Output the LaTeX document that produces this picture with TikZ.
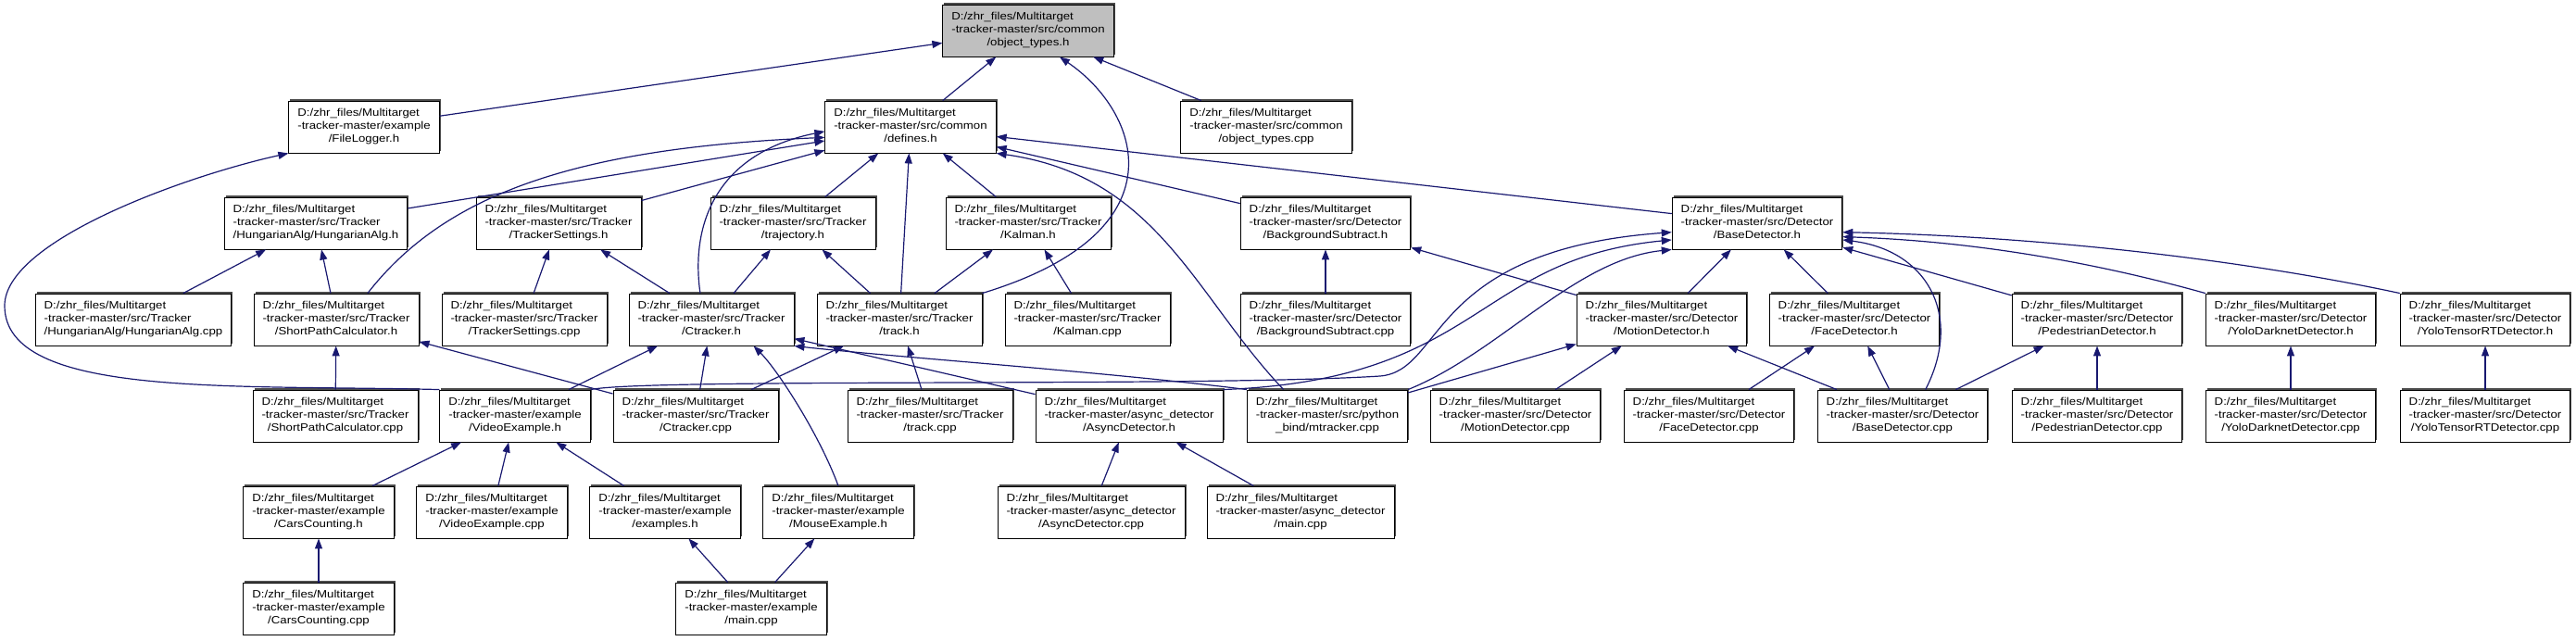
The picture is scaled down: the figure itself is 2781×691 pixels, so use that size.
\documentclass[tikz,border=0pt]{standalone}
\usepackage{fontspec}
\setmainfont[FakeStretch=1.15]{Liberation Sans}
\usepackage{tikz}
\usetikzlibrary{arrows.meta,shadows}
\definecolor{edgeblue}{HTML}{191970}
\definecolor{focusgray}{HTML}{BFBFBF}
\newcommand{\incfile}[2]{\begin{tabular}{@{}l@{}}D:/zhr\_files/Multitarget\\
  -tracker-master/#1\\\multicolumn{1}{@{}c@{}}{#2}\end{tabular}}

\begin{document}
\begin{tikzpicture}[x=1pt,y=-1pt,
    incbox/.style={draw=black,line width=0.9pt,fill=white,inner xsep=9.5pt,
      inner ysep=2pt,minimum height=56pt,font=\fontsize{11.5}{13.8}\selectfont,
      drop shadow={shadow xshift=1.6pt,shadow yshift=1.6pt,fill=black!70,opacity=1}},
    incl/.style={edgeblue,line width=1.2pt,-{Triangle[length=11pt,width=8pt]}}]
  \useasboundingbox (0,0) rectangle (2781,691);
  % rows of the include graph, top file first
  \node[incbox,fill=focusgray] (objtypes_h) at (1110,33) {\incfile{src/common}{/object\_types.h}};

  \node[incbox] (filelogger_h) at (393,137)  {\incfile{example}{/FileLogger.h}};
  \node[incbox] (defines_h)    at (983,137)  {\incfile{src/common}{/defines.h}};
  \node[incbox] (objtypes_cpp) at (1367,137) {\incfile{src/common}{/object\_types.cpp}};

  \node[incbox] (hungarian_h)  at (341,241)  {\incfile{src/Tracker}{/HungarianAlg/HungarianAlg.h}};
  \node[incbox] (trsettings_h) at (603,241)  {\incfile{src/Tracker}{/TrackerSettings.h}};
  \node[incbox] (trajectory_h) at (856,241)  {\incfile{src/Tracker}{/trajectory.h}};
  \node[incbox] (kalman_h)     at (1110,241) {\incfile{src/Tracker}{/Kalman.h}};
  \node[incbox] (bgsubtract_h) at (1431,241) {\incfile{src/Detector}{/BackgroundSubtract.h}};
  \node[incbox] (basedet_h)    at (1897,241) {\incfile{src/Detector}{/BaseDetector.h}};

  \node[incbox] (hungarian_cpp)  at (144,345)  {\incfile{src/Tracker}{/HungarianAlg/HungarianAlg.cpp}};
  \node[incbox] (shortpath_h)    at (363,345)  {\incfile{src/Tracker}{/ShortPathCalculator.h}};
  \node[incbox] (trsettings_cpp) at (566,345)  {\incfile{src/Tracker}{/TrackerSettings.cpp}};
  \node[incbox] (ctracker_h)     at (768,345)  {\incfile{src/Tracker}{/Ctracker.h}};
  \node[incbox] (track_h)        at (971,345)  {\incfile{src/Tracker}{/track.h}};
  \node[incbox] (kalman_cpp)     at (1174,345) {\incfile{src/Tracker}{/Kalman.cpp}};
  \node[incbox] (bgsubtract_cpp) at (1431,345) {\incfile{src/Detector}{/BackgroundSubtract.cpp}};
  \node[incbox] (motiondet_h)    at (1794,345) {\incfile{src/Detector}{/MotionDetector.h}};
  \node[incbox] (facedet_h)      at (2002,345) {\incfile{src/Detector}{/FaceDetector.h}};
  \node[incbox] (peddet_h)       at (2264,345) {\incfile{src/Detector}{/PedestrianDetector.h}};
  \node[incbox] (yolodark_h)     at (2473,345) {\incfile{src/Detector}{/YoloDarknetDetector.h}};
  \node[incbox] (yolotrt_h)      at (2683,345) {\incfile{src/Detector}{/YoloTensorRTDetector.h}};

  \node[incbox] (shortpath_cpp) at (362,449)  {\incfile{src/Tracker}{/ShortPathCalculator.cpp}};
  \node[incbox] (videoex_h)     at (556,449)  {\incfile{example}{/VideoExample.h}};
  \node[incbox] (ctracker_cpp)  at (751,449)  {\incfile{src/Tracker}{/Ctracker.cpp}};
  \node[incbox] (track_cpp)     at (1004,449) {\incfile{src/Tracker}{/track.cpp}};
  \node[incbox] (asyncdet_h)    at (1219,449) {\incfile{async\_detector}{/AsyncDetector.h}};
  \node[incbox] (mtracker_cpp)  at (1433,449) {\incfile{src/python}{\_bind/mtracker.cpp}};
  \node[incbox] (motiondet_cpp) at (1636,449) {\incfile{src/Detector}{/MotionDetector.cpp}};
  \node[incbox] (facedet_cpp)   at (1845,449) {\incfile{src/Detector}{/FaceDetector.cpp}};
  \node[incbox] (basedet_cpp)   at (2054,449) {\incfile{src/Detector}{/BaseDetector.cpp}};
  \node[incbox] (peddet_cpp)    at (2264,449) {\incfile{src/Detector}{/PedestrianDetector.cpp}};
  \node[incbox] (yolodark_cpp)  at (2473,449) {\incfile{src/Detector}{/YoloDarknetDetector.cpp}};
  \node[incbox] (yolotrt_cpp)   at (2683,449) {\incfile{src/Detector}{/YoloTensorRTDetector.cpp}};

  \node[incbox] (carscount_h)   at (344,553)  {\incfile{example}{/CarsCounting.h}};
  \node[incbox] (videoex_cpp)   at (531,553)  {\incfile{example}{/VideoExample.cpp}};
  \node[incbox] (examples_h)    at (718,553)  {\incfile{example}{/examples.h}};
  \node[incbox] (mouseex_h)     at (905,553)  {\incfile{example}{/MouseExample.h}};
  \node[incbox] (asyncdet_cpp)  at (1178,553) {\incfile{async\_detector}{/AsyncDetector.cpp}};
  \node[incbox] (asyncmain_cpp) at (1404,553) {\incfile{async\_detector}{/main.cpp}};

  \node[incbox] (carscount_cpp) at (344,657)  {\incfile{example}{/CarsCounting.cpp}};
  \node[incbox] (main_cpp)      at (811,657)  {\incfile{example}{/main.cpp}};

  % straight includes: file that includes / file that is included
  \foreach \from/\to in {filelogger_h/objtypes_h, defines_h/objtypes_h, objtypes_cpp/objtypes_h,
      hungarian_h/defines_h, trsettings_h/defines_h, trajectory_h/defines_h, track_h/defines_h,
      kalman_h/defines_h, bgsubtract_h/defines_h, basedet_h/defines_h,
      hungarian_cpp/hungarian_h, shortpath_h/hungarian_h, trsettings_cpp/trsettings_h,
      ctracker_h/trsettings_h, ctracker_h/trajectory_h, track_h/trajectory_h, track_h/kalman_h,
      kalman_cpp/kalman_h, bgsubtract_cpp/bgsubtract_h, motiondet_h/bgsubtract_h,
      motiondet_h/basedet_h, facedet_h/basedet_h, peddet_h/basedet_h,
      shortpath_cpp/shortpath_h, ctracker_cpp/shortpath_h, videoex_h/ctracker_h,
      ctracker_cpp/ctracker_h, ctracker_cpp/track_h, track_cpp/track_h, asyncdet_h/ctracker_h,
      mtracker_cpp/motiondet_h, motiondet_cpp/motiondet_h, basedet_cpp/motiondet_h,
      facedet_cpp/facedet_h, basedet_cpp/facedet_h, basedet_cpp/peddet_h, peddet_cpp/peddet_h,
      yolodark_cpp/yolodark_h, yolotrt_cpp/yolotrt_h,
      carscount_h/videoex_h, videoex_cpp/videoex_h, examples_h/videoex_h,
      asyncdet_cpp/asyncdet_h, asyncmain_cpp/asyncdet_h, carscount_cpp/carscount_h,
      main_cpp/examples_h, main_cpp/mouseex_h}
    { \draw[incl] (\from) -- (\to); }

  % the bent ones
  \draw[incl] (track_h.north east) .. controls (1280,250) and (1230,120) .. (objtypes_h.-40);
  \draw[incl] (shortpath_h.40) .. controls (480,210) and (620,160) .. (defines_h.-173);
  \draw[incl] (ctracker_h.113) .. controls (745,240) and (775,165) .. (defines_h.-177);
  \draw[incl] (mtracker_cpp.149) .. controls (1290,320) and (1250,190) .. (defines_h.south east);
  \draw[incl] (videoex_h.north west) .. controls (250,415) and (5,430) .. (5,330)
              .. controls (5,260) and (200,190) .. (filelogger_h.south west);
  \draw[incl] (videoex_h.north east) .. controls (700,408) and (1300,418) .. (1490,406)
              .. controls (1560,400) and (1540,270) .. (basedet_h.-174);
  \draw[incl] (asyncdet_h.north east) .. controls (1600,410) and (1590,280) .. (basedet_h.-169);
  \draw[incl] (mtracker_cpp.north east) .. controls (1620,380) and (1700,280) .. (basedet_h.south west);
  \draw[incl] (basedet_cpp.49) .. controls (2120,340) and (2080,270) .. (basedet_h.-11);
  \draw[incl] (yolodark_h.north west) .. controls (2250,280) and (2120,260) .. (basedet_h.-9);
  \draw[incl] (yolotrt_h.north west) .. controls (2420,280) and (2200,255) .. (basedet_h.-6);
  \draw[incl] (mtracker_cpp.north west) .. controls (1200,402) and (960,385) .. (ctracker_h.south east);
  \draw[incl] (mouseex_h.north) .. controls (885,470) and (840,400) .. (ctracker_h.-32);
\end{tikzpicture}
\end{document}
